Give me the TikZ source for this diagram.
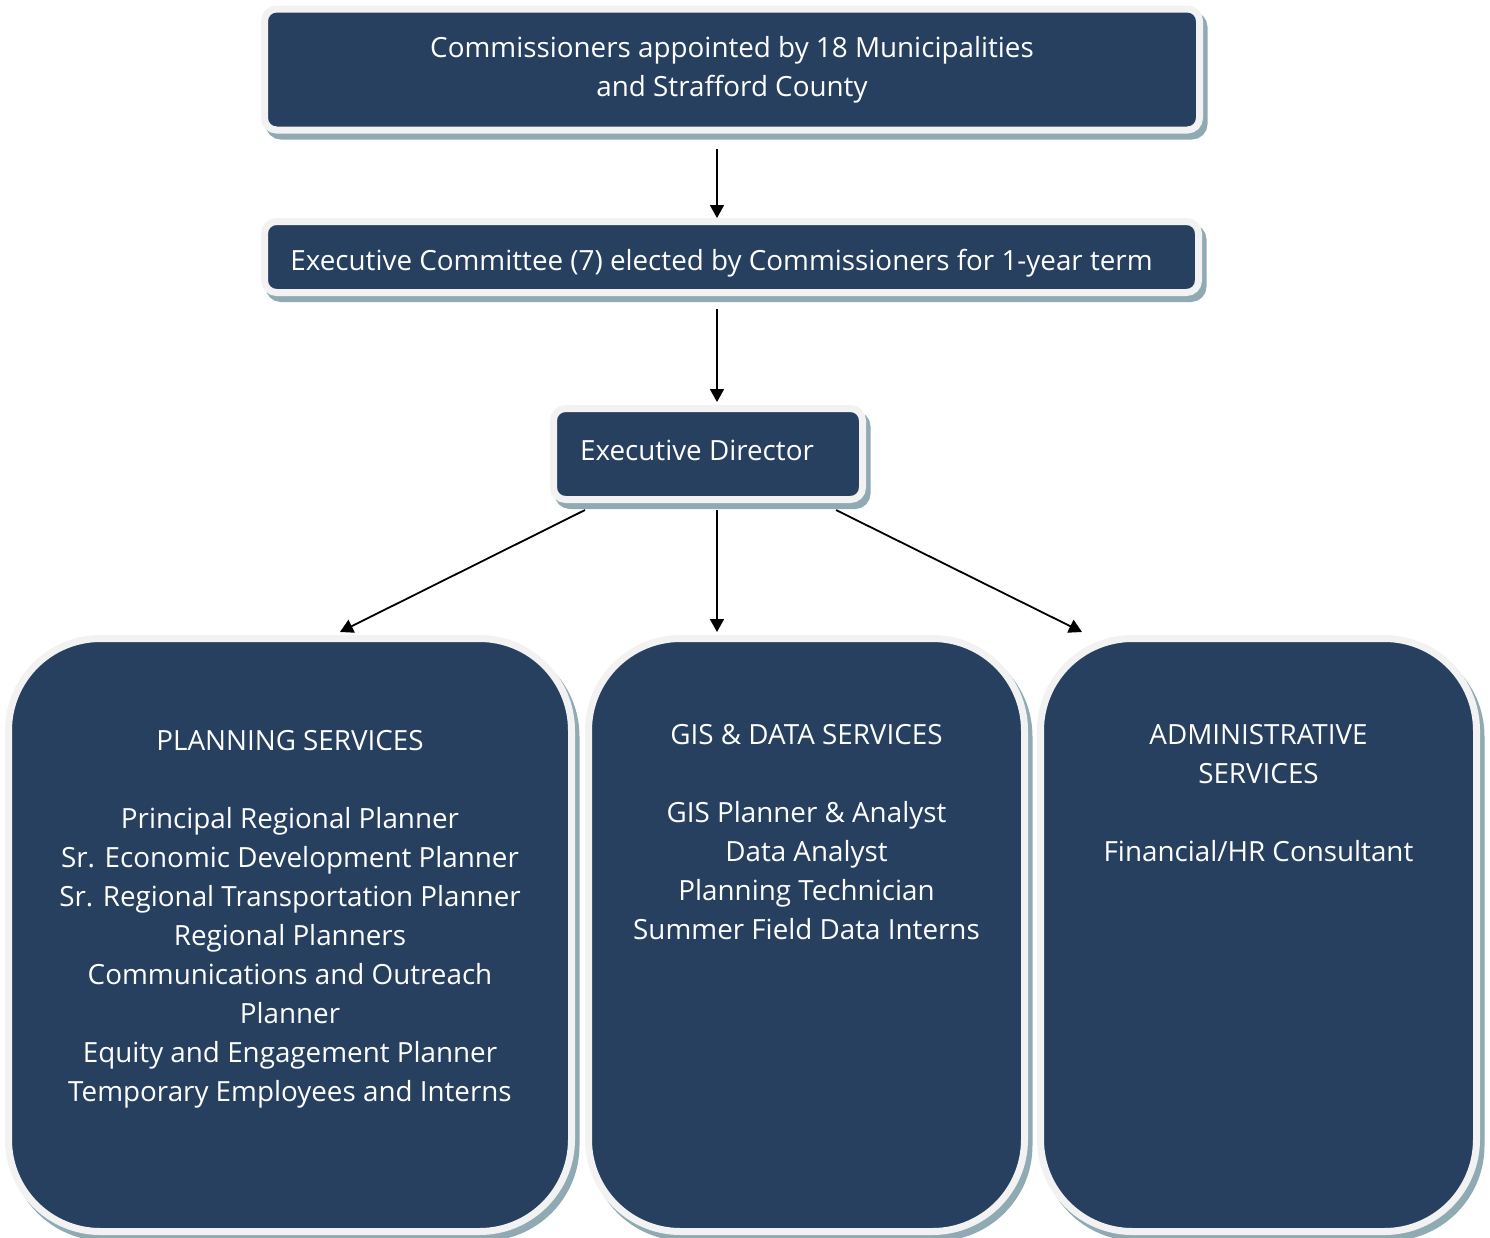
\documentclass[tikz,border=0pt]{standalone}
\usepackage{fontspec}
\setmainfont{Open Sans}
\usetikzlibrary{arrows.meta,shadows}
\definecolor{BoxNavy}{RGB}{39,64,96}
\definecolor{BoxRim}{RGB}{242,242,242}
\definecolor{BoxShade}{RGB}{143,170,178}
\begin{document}
\begin{tikzpicture}[x=0.5pt,y=-0.5pt,
        orgbox/.style={draw=BoxRim,fill=BoxNavy,line width=3.5pt,text=white,align=center,
            font=\fontsize{13.9}{19.5}\selectfont,
            general shadow={draw=BoxShade,fill=BoxShade,line width=3.5pt,shadow xshift=2.25pt,shadow yshift=-3pt}},
        topbox/.style={orgbox,rounded corners=6pt},
        deptbox/.style={orgbox,rounded corners=46pt,minimum height=296.5pt},
        depttext/.style={text=white,align=center,anchor=north,inner sep=0pt,
            font=\fontsize{13.9}{19.5}\selectfont},
        link/.style={line width=0.9pt,-{Triangle[length=6.5pt,width=7pt]}}]
    \useasboundingbox (0,0) rectangle (1490,1238);

    \node[topbox,minimum width=467.5pt,minimum height=60.5pt] (Commissioners) at (732,69.5)
        {Commissioners appointed by 18 Municipalities\\and Strafford County};
    \node[topbox,minimum width=467pt,minimum height=35.5pt,text height=16.6pt,text depth=3.3pt] (ExecCommittee) at (731.5,257)
        {Executive Committee (7) elected by Commissioners for 1-year term\hspace*{10pt}};
    \node[topbox,minimum width=154.5pt,minimum height=45.5pt,text depth=4pt] (ExecDirector) at (708,454)
        {Executive Director\hspace*{11pt}};

    % three service departments
    \node[deptbox,minimum width=281.5pt] (Planning) at (290,935) {};
    \node[deptbox,minimum width=218pt] (GisData) at (806.5,935) {};
    \node[deptbox,minimum width=218pt] (Admin) at (1258.5,935) {};

    \node[depttext] (PlanningText) at (290,730) {PLANNING SERVICES\\[19.5pt]
        Principal Regional Planner\\Sr. Economic Development Planner\\
        Sr. Regional Transportation Planner\\Regional Planners\\
        Communications and Outreach\\Planner\\Equity and Engagement Planner\\
        Temporary Employees and Interns};
    \node[depttext] (GisDataText) at (806.5,724) {GIS \& DATA SERVICES\\[19.5pt]
        GIS Planner \& Analyst\\Data Analyst\\Planning Technician\\Summer Field Data Interns};
    \node[depttext] (AdminText) at (1258.5,724) {ADMINISTRATIVE\\SERVICES\\[19.5pt]
        Financial/HR Consultant};

    \coordinate (Spine) at (717,0);
    \draw[link,shorten <=7.5pt] (Commissioners.south -| Spine) -- (ExecCommittee.north -| Spine);
    \draw[link,shorten <=6.5pt,shorten >=1.5pt] (ExecCommittee.south -| Spine) -- (ExecDirector.north -| Spine);
    \draw[link] ([shift={(35,7)}]ExecDirector.south west) -- ([shift={(50,-3)}]Planning.north);
    \draw[link,shorten <=3.5pt,shorten >=1.5pt] (ExecDirector.south -| Spine) -- (GisData.north -| Spine);
    \draw[link] ([shift={(-30,7)}]ExecDirector.south east) -- ([shift={(-176.5,-3)}]Admin.north);
\end{tikzpicture}
\end{document}
